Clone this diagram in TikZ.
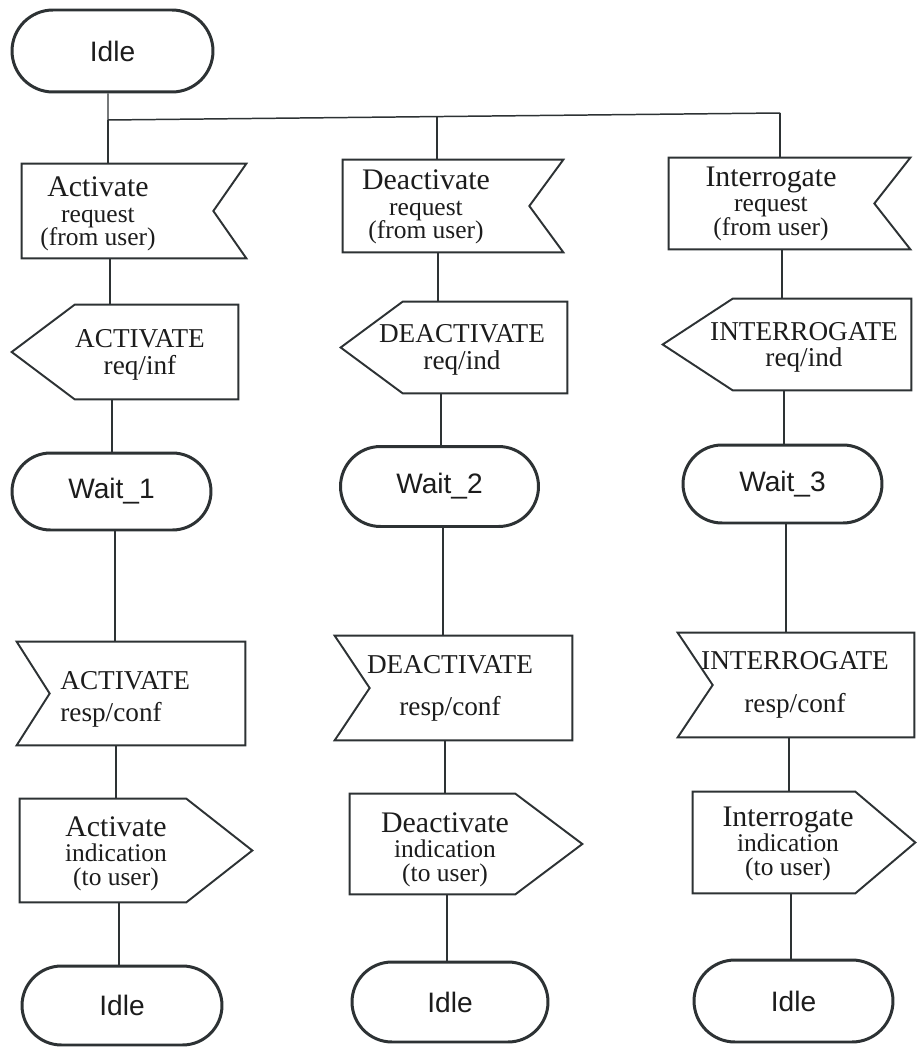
\documentclass[tikz,border=0pt]{standalone}
\usepackage{fontspec}
\usetikzlibrary{shapes.misc}

\newfontfamily\sigfont{Liberation Serif}
\newfontfamily\termfont{Liberation Sans}
\definecolor{ink}{RGB}{45,50,52}
\definecolor{txt}{RGB}{28,28,28}
\newcommand\sigbig{\fontsize{17}{12}\selectfont}

% SDL signal outlines drawn round a node's rectangular body
% input signal, notch on the right
\newcommand\inRight[2]{\draw[sigline] (#1.north west) -- (#1.north east) -- ([xshift=-#2]#1.east) -- (#1.south east) -- (#1.south west) -- cycle;}
% input signal, notch on the left
\newcommand\inLeft[2]{\draw[sigline] (#1.north west) -- (#1.north east) -- (#1.south east) -- (#1.south west) -- ([xshift=#2]#1.west) -- cycle;}
% output signal, point on the left
\newcommand\outLeft[2]{\draw[sigline] (#1.west) -- ([xshift=#2]#1.north west) -- (#1.north east) -- (#1.south east) -- ([xshift=#2]#1.south west) -- cycle;}
% output signal, point on the right
\newcommand\outRight[2]{\draw[sigline] (#1.north west) -- ([xshift=-#2]#1.north east) -- (#1.east) -- ([xshift=-#2]#1.south east) -- (#1.south west) -- cycle;}

\begin{document}
\lineskiplimit=-30pt
\begin{tikzpicture}[x=0.02cm, y=-0.02cm,
  terminal/.style={rounded rectangle, draw=ink, line width=1.7pt, inner sep=0pt,
    font=\termfont\fontsize{16}{19}\selectfont, text=txt},
  body/.style={rectangle, inner sep=0pt, draw=none},
  sigline/.style={draw=ink, line width=1.1pt, line join=miter},
  conn/.style={draw=ink, line width=0.85pt},
  sigtext/.style={inner sep=0pt, align=center, text=txt,
    font=\sigfont\fontsize{14.5}{12}\selectfont},
  captext/.style={sigtext, font=\sigfont\fontsize{15.5}{13.5}\selectfont},
]
\fill[white] (0,0) rectangle (916,1047);
\useasboundingbox (0,0) rectangle (916,1047);

% column positions of the connectors
\foreach \n/\x in {a2/110,a3/112,a4/115,a5/116,a6/119,
                   b2/438,b3/441,b4/443,b5/445,b6/447,
                   c2/782,c3/784,c4/786,c5/789,c6/791}
  \coordinate (\n) at (\x,0);
\coordinate (j1) at (108,120);
\coordinate (j2) at (437,116.6);
\coordinate (j3) at (780,113);

% start state
\node[terminal, minimum width=4.02cm, minimum height=1.64cm] (T0) at (112.5,51) {Idle};

% requests from the user
\node[body, minimum width=4.48cm, minimum height=1.88cm] (R1a) at (134,211) {};
\node[body, minimum width=4.40cm, minimum height=1.84cm] (R1b) at (453,206) {};
\node[body, minimum width=4.82cm, minimum height=1.82cm] (R1c) at (789.5,203.5) {};
\inRight{R1a}{0.66cm}
\inRight{R1b}{0.68cm}
\inRight{R1c}{0.72cm}
\node[sigtext] (t1a) at (98,214) {{\sigbig Activate}\\[2.5pt]request\\[1.5pt](from user)};
\node[sigtext] (t1b) at (426,207) {{\sigbig Deactivate}\\[2.5pt]request\\[1.5pt](from user)};
\node[sigtext] (t1c) at (771,204) {{\sigbig Interrogate}\\[2.5pt]request\\[1.5pt](from user)};

% primitives sent to the peer
\node[body, minimum width=4.52cm, minimum height=1.88cm] (R2a) at (125,352) {};
\node[body, minimum width=4.52cm, minimum height=1.82cm] (R2b) at (454,347.5) {};
\node[body, minimum width=4.96cm, minimum height=1.82cm] (R2c) at (787,344.5) {};
\outLeft{R2a}{1.26cm}
\outLeft{R2b}{1.24cm}
\outLeft{R2c}{1.40cm}
\node[captext] (t2a) at (140,355) {ACTIVATE\\[1.5pt]req/inf};
\node[captext] (t2b) at (462,350) {DEACTIVATE\\[1.5pt]req/ind};
\node[captext] (t2c) at (804,347.5) {INTERROGATE\\[1.5pt]req/ind};

% waiting states
\node[terminal, minimum width=3.98cm, minimum height=1.54cm] (W1) at (111.5,491.5) {Wait\_1};
\node[terminal, minimum width=3.96cm, minimum height=1.60cm] (W2) at (439.5,486.5) {Wait\_2};
\node[terminal, minimum width=3.98cm, minimum height=1.56cm] (W3) at (782.5,484) {Wait\_3};

% responses received
\node[body, minimum width=4.56cm, minimum height=2.06cm] (R4a) at (131,693.5) {};
\node[body, minimum width=4.74cm, minimum height=2.08cm] (R4b) at (453.5,688) {};
\node[body, minimum width=4.72cm, minimum height=2.08cm] (R4c) at (796,685) {};
\inLeft{R4a}{0.66cm}
\inLeft{R4b}{0.70cm}
\inLeft{R4c}{0.70cm}
\node[captext, align=left, anchor=west] (t4a) at (60,699) {ACTIVATE\\[4.6pt]resp/conf};
\node[captext] (t4b) at (450,688) {DEACTIVATE\\[10.3pt]resp/conf};
\node[captext] (t4c) at (795,685) {INTERROGATE\\[11.4pt]resp/conf};

% indications to the user
\node[body, minimum width=4.64cm, minimum height=2.06cm] (R5a) at (136,850.5) {};
\node[body, minimum width=4.64cm, minimum height=2.00cm] (R5b) at (466,844) {};
\node[body, minimum width=4.44cm, minimum height=2.02cm] (R5c) at (804,842.5) {};
\outRight{R5a}{1.32cm}
\outRight{R5b}{1.34cm}
\outRight{R5c}{1.20cm}
\node[sigtext] (t5a) at (116,854) {{\sigbig Activate}\\[2pt]indication\\[2pt](to user)};
\node[sigtext] (t5b) at (445,850) {{\sigbig Deactivate}\\[2pt]indication\\[2pt](to user)};
\node[sigtext] (t5c) at (788,844) {{\sigbig Interrogate}\\[2pt]indication\\[2pt](to user)};

% back to idle
\node[terminal, minimum width=4.00cm, minimum height=1.58cm] (I1) at (122,1005.5) {Idle};
\node[terminal, minimum width=3.92cm, minimum height=1.60cm] (I2) at (450,1002) {Idle};
\node[terminal, minimum width=3.98cm, minimum height=1.64cm] (I3) at (793.5,1001) {Idle};

% branching from the start state
\draw[conn] (T0.south -| j1) -- (j1) -- (j3);
\draw[conn] (j1) -- (R1a.north -| j1);
\draw[conn] (j2) -- (R1b.north -| j2);
\draw[conn] (j3) -- (R1c.north -| j3);

% column 1
\draw[conn] (R1a.south -| a2) -- (R2a.north -| a2);
\draw[conn] (R2a.south -| a3) -- (W1.north -| a3);
\draw[conn] (W1.south -| a4) -- (R4a.north -| a4);
\draw[conn] (R4a.south -| a5) -- (R5a.north -| a5);
\draw[conn] (R5a.south -| a6) -- (I1.north -| a6);

% column 2
\draw[conn] (R1b.south -| b2) -- (R2b.north -| b2);
\draw[conn] (R2b.south -| b3) -- (W2.north -| b3);
\draw[conn] (W2.south -| b4) -- (R4b.north -| b4);
\draw[conn] (R4b.south -| b5) -- (R5b.north -| b5);
\draw[conn] (R5b.south -| b6) -- (I2.north -| b6);

% column 3
\draw[conn] (R1c.south -| c2) -- (R2c.north -| c2);
\draw[conn] (R2c.south -| c3) -- (W3.north -| c3);
\draw[conn] (W3.south -| c4) -- (R4c.north -| c4);
\draw[conn] (R4c.south -| c5) -- (R5c.north -| c5);
\draw[conn] (R5c.south -| c6) -- (I3.north -| c6);
\end{tikzpicture}
\end{document}
